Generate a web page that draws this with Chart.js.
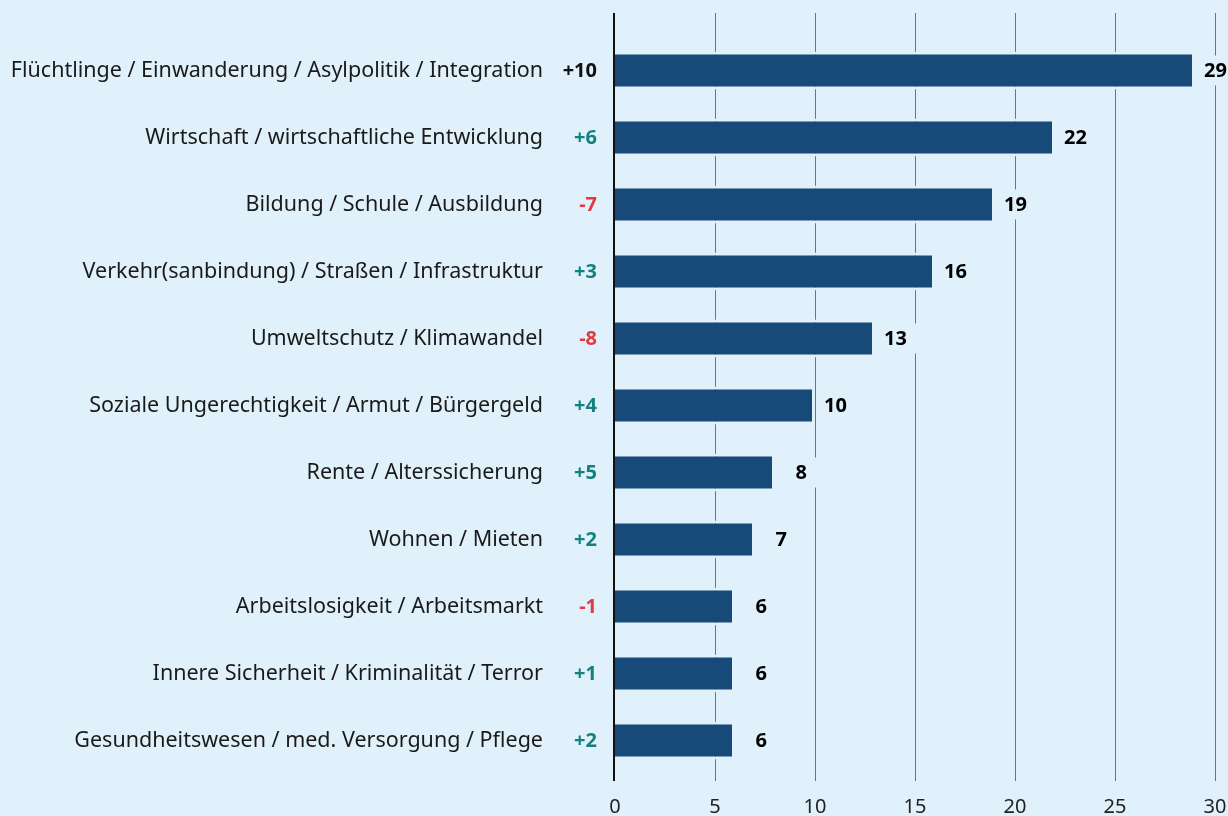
<!DOCTYPE html>
<html>
<head>
<meta charset="utf-8">
<script src="https://cdn.jsdelivr.net/npm/chart.js@4"></script>
<style>
  html, body { margin: 0; padding: 0; background: #e0f1fb; overflow: hidden; }
  canvas { display: block; }
</style>
</head>
<body>
<canvas id="themen" width="1228" height="816"></canvas>
<script>
const categories = [
  "Flüchtlinge / Einwanderung / Asylpolitik / Integration",
  "Wirtschaft / wirtschaftliche Entwicklung",
  "Bildung / Schule / Ausbildung",
  "Verkehr(sanbindung) / Straßen / Infrastruktur",
  "Umweltschutz / Klimawandel",
  "Soziale Ungerechtigkeit / Armut / Bürgergeld",
  "Rente / Alterssicherung",
  "Wohnen / Mieten",
  "Arbeitslosigkeit / Arbeitsmarkt",
  "Innere Sicherheit / Kriminalität / Terror",
  "Gesundheitswesen / med. Versorgung / Pflege"
];
const values = [29, 22, 19, 16, 13, 10, 8, 7, 6, 6, 6];
const changes = ["+10", "+6", "-7", "+3", "-8", "+4", "+5", "+2", "-1", "+1", "+2"];
const xTicks = [0, 5, 10, 15, 20, 25, 30];

const BG = "#e0f1fb";
const BAR = "#174a79";
const TEAL = "#14807f";
const RED = "#e23a43";
const FONT = "'Noto Sans', 'Open Sans', sans-serif";

function changeColor(c, i) {
  if (i === 0) return "#111";   // top topic shown in black
  return c.startsWith("-") ? RED : TEAL;
}

// grid lines run a bit past the bars at top and bottom
const gridPlugin = {
  id: "grid",
  beforeDatasetsDraw(chart) {
    const { ctx, chartArea } = chart;
    const x = chart.scales.x;
    ctx.save();
    xTicks.forEach(v => {
      const px = Math.round(x.getPixelForValue(v));
      ctx.beginPath();
      if (v === 0) {
        ctx.strokeStyle = "#111";
        ctx.lineWidth = 2;
        ctx.moveTo(px - 1, chartArea.top - 24);
        ctx.lineTo(px - 1, chartArea.bottom + 7);
      } else {
        ctx.strokeStyle = "#6e7377";
        ctx.lineWidth = 1;
        ctx.moveTo(px + 0.5, chartArea.top - 24);
        ctx.lineTo(px + 0.5, chartArea.bottom + 7);
      }
      ctx.stroke();
    });
    ctx.restore();
  }
};

const labelPlugin = {
  id: "labels",
  afterDatasetsDraw(chart) {
    const { ctx } = chart;
    const meta = chart.getDatasetMeta(0);
    const x = chart.scales.x;
    ctx.save();
    ctx.textBaseline = "middle";
    meta.data.forEach((bar, i) => {
      const end = x.getPixelForValue(values[i]);
      const right = end + 32;
      // value label with a background box that cuts the grid lines
      ctx.font = "bold 20px " + FONT;
      const w = ctx.measureText(String(values[i])).width;
      ctx.fillStyle = BG;
      ctx.fillRect(right - w - 6, bar.y - 15, w + 17, 30);
      ctx.fillStyle = "#000";
      ctx.textAlign = "right";
      ctx.fillText(String(values[i]), right, bar.y + 1);
      // change vs previous survey
      ctx.fillStyle = changeColor(changes[i], i);
      ctx.fillText(changes[i], x.left - 18, bar.y + 1);
    });
    ctx.restore();
  }
};

new Chart("themen", {
  type: "bar",
  data: {
    labels: categories,
    datasets: [{
      data: values,
      backgroundColor: BAR,
      borderColor: BG,
      borderWidth: { top: 3, right: 3, bottom: 3, left: 0 },
      borderSkipped: "start",
      categoryPercentage: 1,
      barPercentage: 0.567
    }]
  },
  options: {
    indexAxis: "y",
    responsive: false,
    animation: false,
    layout: { padding: { top: 37, right: 13, left: 0, bottom: 0 } },
    plugins: {
      legend: { display: false },
      tooltip: { enabled: false }
    },
    scales: {
      x: {
        min: 0,
        max: 30,
        grid: { display: false, drawTicks: false },
        border: { display: false },
        afterBuildTicks(scale) {
          scale.ticks = xTicks.map(v => ({ value: v }));
        },
        ticks: {
          color: "#222",
          font: { family: FONT, size: 20 },
          padding: 21,
          maxRotation: 0
        },
        afterFit(scale) {
          scale.height = 42;
          scale.paddingLeft = 0;
          scale.paddingRight = 0;
        }
      },
      y: {
        grid: { display: false, drawTicks: false },
        border: { display: false },
        ticks: {
          color: "#1a1a1a",
          font: { family: FONT, size: 21.5 },
          padding: 72
        },
        afterFit(scale) {
          scale.width = 615;
          scale.paddingTop = 0;
          scale.paddingBottom = 0;
        }
      }
    }
  },
  plugins: [gridPlugin, labelPlugin]
});
</script>
</body>
</html>
